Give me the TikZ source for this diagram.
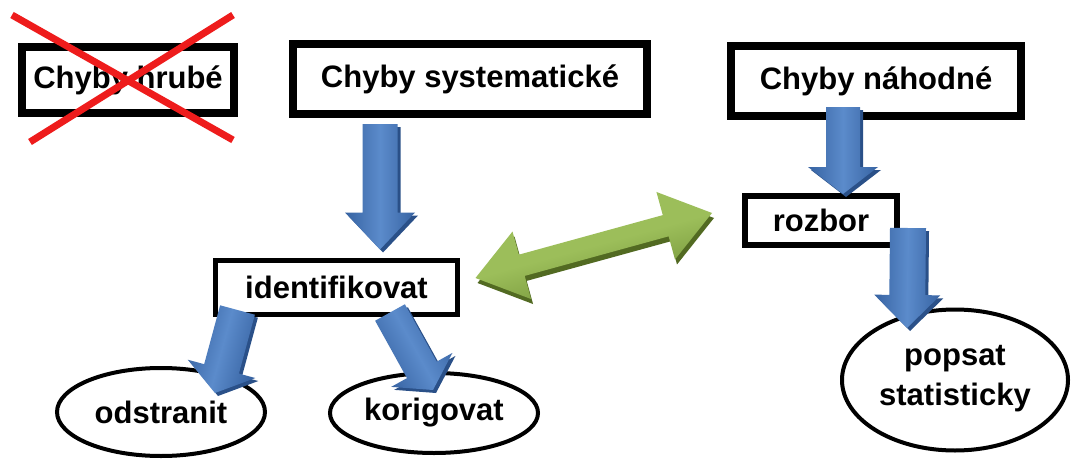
\documentclass[tikz,border=0pt]{standalone}
\usepackage{fontspec}
\setmainfont{Liberation Sans}
\usetikzlibrary{calc,shapes.geometric}

\definecolor{arrowbluelight}{HTML}{5B8BCB}
\definecolor{arrowbluedark}{HTML}{3763A2}
\definecolor{arrowblueshadow}{HTML}{2A5088}
\definecolor{arrowgreenlight}{HTML}{9CBE5A}
\definecolor{arrowgreendark}{HTML}{6E8E34}
\definecolor{arrowgreenshadow}{HTML}{526A22}
\definecolor{crossred}{HTML}{EE1C1C}

% Block arrow from #1 (tail centre) to #2 (tip):
% #3 half shaft width, #4 half head width, #5 head length
\newcommand\blockarrow[5]{%
  \coordinate (ba-n) at ($(#2)!#5!(#1)$);
  \pgfmathanglebetweenpoints{\pgfpointanchor{#1}{center}}{\pgfpointanchor{#2}{center}}%
  \let\baangle\pgfmathresult
  \fill[blueshadow]
    ($(#1)!#3!90:(#2)$) -- ($(ba-n)!#3!90:(#2)$) -- ($(ba-n)!#4!90:(#2)$) -- (#2)
    -- ($(ba-n)!#4!-90:(#2)$) -- ($(ba-n)!#3!-90:(#2)$) -- ($(#1)!#3!-90:(#2)$) -- cycle;
  \shade[bluebody, shading angle=\baangle]
    ($(#1)!#3!90:(#2)$) -- ($(ba-n)!#3!90:(#2)$) -- ($(ba-n)!#4!90:(#2)$) -- (#2)
    -- ($(ba-n)!#4!-90:(#2)$) -- ($(ba-n)!#3!-90:(#2)$) -- ($(#1)!#3!-90:(#2)$) -- cycle;
}

% Double-headed block arrow between tips #1 and #2
\newcommand\doubleblockarrow[5]{%
  \coordinate (da-a) at ($(#1)!#5!(#2)$);
  \coordinate (da-b) at ($(#2)!#5!(#1)$);
  \pgfmathanglebetweenpoints{\pgfpointanchor{#1}{center}}{\pgfpointanchor{#2}{center}}%
  \let\daangle\pgfmathresult
  \fill[greenshadow]
    (#1) -- ($(da-a)!#4!90:(#2)$) -- ($(da-a)!#3!90:(#2)$) -- ($(da-b)!#3!-90:(#1)$)
    -- ($(da-b)!#4!-90:(#1)$) -- (#2) -- ($(da-b)!#4!90:(#1)$) -- ($(da-b)!#3!90:(#1)$)
    -- ($(da-a)!#3!-90:(#2)$) -- ($(da-a)!#4!-90:(#2)$) -- cycle;
  \shade[greenbody, shading angle=\daangle]
    (#1) -- ($(da-a)!#4!90:(#2)$) -- ($(da-a)!#3!90:(#2)$) -- ($(da-b)!#3!-90:(#1)$)
    -- ($(da-b)!#4!-90:(#1)$) -- (#2) -- ($(da-b)!#4!90:(#1)$) -- ($(da-b)!#3!90:(#1)$)
    -- ($(da-a)!#3!-90:(#2)$) -- ($(da-a)!#4!-90:(#2)$) -- cycle;
}

\tikzset{
  label text/.style={font=\fontsize{31}{40}\selectfont\bfseries, text=black},
  box/.style={label text, draw=black, fill=white, rectangle, inner sep=0pt},
  oval/.style={label text, draw=black, fill=white, ellipse, line width=4pt, inner sep=0pt, align=center},
  bluebody/.style={top color=arrowbluedark, bottom color=arrowbluedark, middle color=arrowbluelight},
  blueshadow/.style={fill=arrowblueshadow, transform canvas={xshift=3pt, yshift=-3pt}},
  greenbody/.style={top color=arrowgreenlight, bottom color=arrowgreendark, middle color=arrowgreenlight},
  greenshadow/.style={fill=arrowgreenshadow, transform canvas={xshift=2pt, yshift=-5pt}},
  cross/.style={draw=crossred, line width=7pt}
}

\begin{document}
\begin{tikzpicture}[x=1pt, y=-1pt]
  \useasboundingbox (0,0) rectangle (1071,463);
  \fill[white] (0,0) rectangle (1071,463);

  % boxes and ovals
  \node[box, line width=8pt, minimum width=212pt, minimum height=66pt] (hrube) at (128,80) {Chyby hrubé};
  \node[box, line width=8pt, minimum width=354pt, minimum height=70pt] (sys) at (470,79) {Chyby systematické};
  \node[box, line width=8pt, minimum width=290pt, minimum height=70pt] (nah) at (876,81) {Chyby náhodné};
  \node[box, line width=6pt, minimum width=152pt, minimum height=49pt] (rozbor) at (821,220.5) {rozbor};
  \node[box, line width=5pt, minimum width=242pt, minimum height=54pt] (ident) at (336.5,287.5) {identifikovat};
  \node[oval, minimum width=208pt, minimum height=88pt] (odstr) at (161,412) {odstranit};
  \node[oval, minimum width=208pt, minimum height=80pt] (korig) at (434,413) {korigovat};
  \node[oval, minimum width=226pt, minimum height=141pt] (popsat) at (955,380) {popsat\\statisticky\\[-30pt]};

  % crossed-out box
  \draw[cross] ($(hrube.center)+(-116,-65)$) -- ($(hrube.center)+(105,60)$);
  \draw[cross] ($(hrube.center)+(105,-65)$) -- ($(hrube.center)+(-98,62)$);

  % arrow end points
  \coordinate (a1t) at ($(sys.south)+(-90,6)$);
  \coordinate (a1h) at ($(ident.north)+(43.5,-8.5)$);
  \coordinate (a2t) at ($(ident.south)+(-99,-7)$);
  \coordinate (a2h) at ($(odstr.north)+(54,27)$);
  \coordinate (a3t) at ($(ident.south)+(53.5,-4.5)$);
  \coordinate (a3h) at ($(korig.north)+(-1,19)$);
  \coordinate (a4t) at ($(nah.south)+(-33,-13)$);
  \coordinate (a4h) at ($(rozbor.north)+(22,1)$);
  \coordinate (a5t) at ($(rozbor.east)+(8,7.5)$);
  \coordinate (a5h) at ($(popsat.north)+(-48,20.5)$);
  \coordinate (gl) at ($(ident.east)+(15.5,-9.5)$);
  \coordinate (gr) at ($(rozbor.west)+(-30,-7.5)$);

  % block arrows
  \blockarrow{a1t}{a1h}{17.5pt}{35pt}{37pt}
  \blockarrow{a2t}{a2h}{18pt}{35pt}{25pt}
  \blockarrow{a3t}{a3h}{17pt}{35pt}{23pt}
  \blockarrow{a4t}{a4h}{17pt}{35pt}{27pt}
  \blockarrow{a5t}{a5h}{18pt}{33pt}{33pt}
  \doubleblockarrow{gl}{gr}{11pt}{35pt}{48pt}
\end{tikzpicture}
\end{document}
